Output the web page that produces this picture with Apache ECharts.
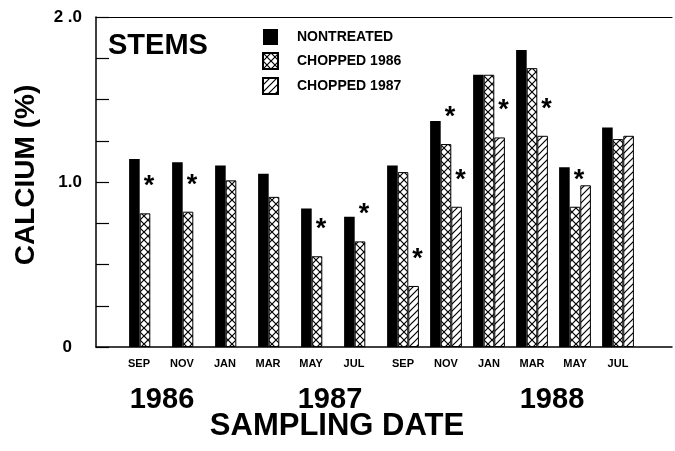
<!DOCTYPE html>
<html>
<head>
<meta charset="utf-8">
<script src="https://cdn.jsdelivr.net/npm/echarts@6/dist/echarts.min.js"></script>
<style>
  html, body { margin: 0; padding: 0; background: #fff; }
  #chart { width: 675px; height: 451px; }
</style>
</head>
<body>
<div id="chart"></div>
<script>
// Sampling months (Sep 1986 – Jul 1988)
const months = ['SEP', 'NOV', 'JAN', 'MAR', 'MAY', 'JUL', 'SEP', 'NOV', 'JAN', 'MAR', 'MAY', 'JUL'];
// Stem calcium concentration (%)
const nontreated  = [1.14, 1.12, 1.10, 1.05, 0.84, 0.79, 1.10, 1.37, 1.65, 1.80, 1.09, 1.33];
const chopped1986 = [0.81, 0.82, 1.01, 0.91, 0.55, 0.64, 1.06, 1.23, 1.65, 1.69, 0.85, 1.26];
const chopped1987 = [null, null, null, null, null, null, 0.37, 0.85, 1.27, 1.28, 0.98, 1.28];
// Significant differences from the nontreated stems (*)
const signif1986 = [1, 1, 0, 0, 1, 1, 0, 1, 0, 0, 1, 0];
const signif1987 = [0, 0, 0, 0, 0, 0, 1, 1, 1, 1, 0, 0];
// Y-axis tick labels
const yTickLabels = { 0: '0', 1: '1.0', 2: '2 .0' };
const yearLabels = ['1986', '1987', '1988'];

const FONT = '"Liberation Sans", Arial, Helvetica, sans-serif';

function makeTile(size, draw) {
  const c = document.createElement('canvas');
  c.width = size; c.height = size;
  const g = c.getContext('2d');
  g.fillStyle = '#fff';
  g.fillRect(0, 0, size, size);
  g.strokeStyle = '#000';
  g.lineWidth = 1.2;
  g.beginPath();
  draw(g, size);
  g.stroke();
  return c;
}
// crosshatch: both diagonals
const crossTile = makeTile(8, (g, s) => {
  g.moveTo(-1, -1); g.lineTo(s + 1, s + 1);
  g.moveTo(s + 1, -1); g.lineTo(-1, s + 1);
});
// single diagonal hatch "/"
const hatchTile = makeTile(7, (g, s) => {
  g.moveTo(-1, s + 1); g.lineTo(s + 1, -1);
  g.moveTo(-1, 1); g.lineTo(1, -1);
  g.moveTo(s - 1, s + 1); g.lineTo(s + 1, s - 1);
});

const crossFill = { image: crossTile, repeat: 'repeat' };
const hatchFill = { image: hatchTile, repeat: 'repeat' };

function starLabel(flags) {
  return {
    show: true,
    position: 'top',
    distance: 13,
    offset: [4, 0],
    fontFamily: FONT,
    fontWeight: 'bold',
    fontSize: 27,
    color: '#000',
    formatter: p => (flags[p.dataIndex] ? '*' : '')
  };
}

const chart = echarts.init(document.getElementById('chart'), null, { renderer: 'canvas' });

const gridTop = 17, gridBottom = 104;

chart.setOption({
  animation: false,
  backgroundColor: '#fff',
  textStyle: { fontFamily: FONT },
  grid: [
    { left: 96, right: 3, top: gridTop, bottom: gridBottom },
    { left: 123.5, width: 516, top: gridTop, bottom: gridBottom }
  ],
  legend: {
    orient: 'vertical',
    left: 262,
    top: 29,
    padding: 0,
    itemWidth: 15,
    itemHeight: 16,
    itemGap: 7,
    icon: 'rect',
    selectedMode: false,
    textStyle: { fontFamily: FONT, fontWeight: 'bold', fontSize: 14, color: '#000', padding: [0, 0, 0, 14] },
    data: ['NONTREATED', 'CHOPPED 1986', 'CHOPPED 1987']
  },
  xAxis: [
    { // frame: bottom line
      gridIndex: 0, type: 'value', min: 0, max: 1, position: 'bottom',
      axisLine: { show: true, onZero: false, lineStyle: { color: '#000', width: 1.5 } },
      axisTick: { show: false }, axisLabel: { show: false }, splitLine: { show: false }
    },
    { // frame: top line
      gridIndex: 0, type: 'value', min: 0, max: 1, position: 'top',
      axisLine: { show: true, onZero: false, lineStyle: { color: '#000', width: 1.2 } },
      axisTick: { show: false }, axisLabel: { show: false }, splitLine: { show: false }
    },
    { // month categories
      gridIndex: 1, type: 'category', data: months,
      axisLine: { show: false }, axisTick: { show: false },
      axisLabel: {
        interval: 0,
        margin: 11,
        fontFamily: FONT, fontWeight: 'bold', fontSize: 11, color: '#000',
        formatter: (v, i) => (i < 6 ? '{a|' + v + '}' : v),
        rich: { a: { fontFamily: FONT, fontWeight: 'bold', fontSize: 11, color: '#000', padding: [0, 12, 0, 0] } }
      }
    }
  ],
  yAxis: [
    {
      gridIndex: 0, type: 'value', min: 0, max: 2, interval: 0.25,
      axisLine: { show: true, lineStyle: { color: '#000', width: 1.5 } },
      axisTick: { show: true, inside: true, length: 13, lineStyle: { color: '#000', width: 1.2 } },
      splitLine: { show: false },
      axisLabel: {
        margin: 14,
        fontFamily: FONT, fontWeight: 'bold', fontSize: 17, color: '#000',
        formatter: v => (v in yTickLabels ? (v === 0 ? '{z|0}' : yTickLabels[v]) : ''),
        rich: { z: { fontFamily: FONT, fontWeight: 'bold', fontSize: 17, color: '#000', padding: [0, 10, 0, 0] } }
      }
    },
    {
      gridIndex: 1, type: 'value', min: 0, max: 2, show: false
    }
  ],
  series: [
    {
      name: 'NONTREATED', type: 'bar', xAxisIndex: 2, yAxisIndex: 1,
      data: nontreated, barWidth: 10.6, barGap: '0%',
      itemStyle: { color: '#000' }
    },
    {
      name: 'CHOPPED 1986', type: 'bar', xAxisIndex: 2, yAxisIndex: 1,
      data: chopped1986, barWidth: 10.6, barGap: '0%',
      itemStyle: { color: crossFill, borderColor: '#000', borderWidth: 1 },
      label: starLabel(signif1986)
    },
    {
      name: 'CHOPPED 1987', type: 'bar', xAxisIndex: 2, yAxisIndex: 1,
      data: chopped1987, barWidth: 10.6, barGap: '0%',
      itemStyle: { color: hatchFill, borderColor: '#000', borderWidth: 1 },
      label: starLabel(signif1987)
    }
  ],
  graphic: [
    { type: 'text', left: 108, top: 31,
      style: { text: 'STEMS', fontFamily: FONT, fontWeight: 'bold', fontSize: 29, fill: '#000' } },
    { type: 'text', x: 26, y: 175, rotation: Math.PI / 2,
      style: { text: 'CALCIUM (%)', fontFamily: FONT, fontWeight: 'bold', fontSize: 28, fill: '#000',
               align: 'center', verticalAlign: 'middle' } },
    { type: 'text', x: 162, y: 400,
      style: { text: yearLabels[0], fontFamily: FONT, fontWeight: 'bold', fontSize: 29, fill: '#000',
               align: 'center', verticalAlign: 'middle' } },
    { type: 'text', x: 330, y: 400,
      style: { text: yearLabels[1], fontFamily: FONT, fontWeight: 'bold', fontSize: 29, fill: '#000',
               align: 'center', verticalAlign: 'middle' } },
    { type: 'text', x: 552, y: 400,
      style: { text: yearLabels[2], fontFamily: FONT, fontWeight: 'bold', fontSize: 29, fill: '#000',
               align: 'center', verticalAlign: 'middle' } },
    { type: 'text', x: 337, y: 426,
      style: { text: 'SAMPLING DATE', fontFamily: FONT, fontWeight: 'bold', fontSize: 31, fill: '#000',
               align: 'center', verticalAlign: 'middle' } }
  ]
});
</script>
</body>
</html>
